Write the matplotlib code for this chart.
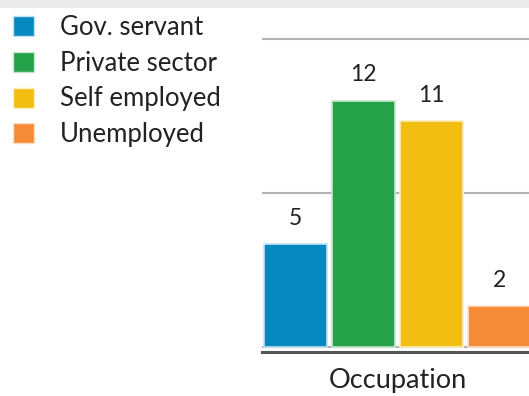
import matplotlib
matplotlib.use("Agg")
import matplotlib.pyplot as plt
from matplotlib.patches import Rectangle, Patch

categories = ["Gov. servant", "Private sector", "Self employed", "Unemployed"]
values = [5, 12, 11, 2]
colors = ["#0888c0", "#25a249", "#f2be12", "#f58b37"]
edge_colors = ["#bfe3f2", "#c4e8cf", "#fdefc0", "#fde0c8"]
group_label = "Occupation"

plt.rcParams["font.family"] = ["Lato", "DejaVu Sans"]

W, H = 529, 396
fig = plt.figure(figsize=(W / 100, H / 100), dpi=100)

# thin grey band along the top edge
fig.patches.append(Rectangle((0, 1 - 8 / H), 1, 8 / H, transform=fig.transFigure,
                             facecolor="#ebebeb", edgecolor="none", zorder=0))

# plot area runs past the right edge of the canvas
left_px, right_px = 262, 560
bottom_px, top_px = 352, 35
ax = fig.add_axes([left_px / W, 1 - bottom_px / H,
                   (right_px - left_px) / W, (bottom_px - top_px) / H])

x = list(range(len(values)))
bars = ax.bar(x, values, width=0.93, color=colors, edgecolor=edge_colors,
              linewidth=1.2, zorder=3)

ax.set_xlim(-0.493, 3.89)
ax.set_ylim(-0.25, 15.2)
ax.set_yticks([0, 7.5, 15])
ax.yaxis.grid(True, color="#b3b3b3", linewidth=1.5, zorder=0)
ax.set_axisbelow(True)
ax.tick_params(left=False, labelleft=False, bottom=False)
ax.set_xticks([1.5])
ax.set_xticklabels([group_label], fontsize=19.5, color="#222222")
ax.tick_params(axis="x", pad=8)
for s in ["top", "right", "left"]:
    ax.spines[s].set_visible(False)
ax.spines["bottom"].set_color("#555555")
ax.spines["bottom"].set_linewidth(2.2)

for b, v in zip(bars, values):
    ax.annotate(str(v), (b.get_x() + b.get_width() / 2, v),
                xytext=(0, 11), textcoords="offset points",
                ha="center", va="bottom", fontsize=16.5, color="#222222")

handles = [Patch(facecolor=c, edgecolor=e, linewidth=1.0) for c, e in zip(colors, edge_colors)]
fig.legend(handles, categories, loc="upper left",
           bbox_to_anchor=(0.5 / W, 1 - 2 / H), frameon=False,
           fontsize=18.5, handlelength=0.82, handleheight=0.82,
           handletextpad=1.0, labelspacing=0.42, borderpad=0.0,
           labelcolor="#222222")

fig.savefig("out.png", dpi=100)
